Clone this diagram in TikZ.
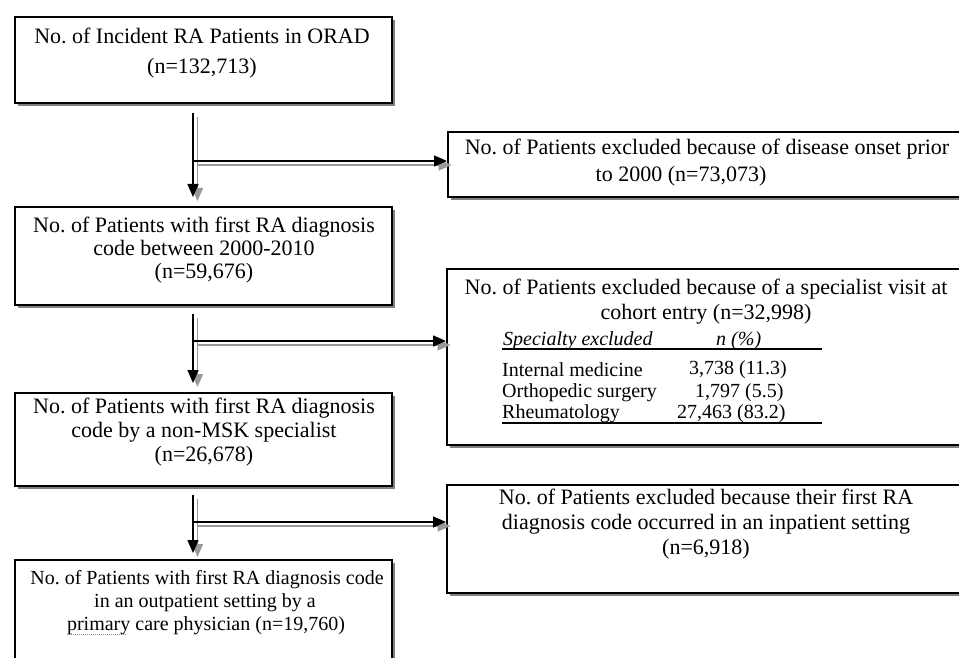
\documentclass[tikz,border=0pt]{standalone}
\usepackage{fontspec}
\setmainfont{Liberation Serif}
\usetikzlibrary{arrows.meta,shadows,calc}
\frenchspacing
\begin{document}
\begin{tikzpicture}[x=1pt,y=-1pt,
  box/.style={draw=black, line width=1.6pt, fill=white, anchor=north west, inner sep=0pt,
    drop shadow={shadow xshift=3.5pt, shadow yshift=-3.5pt, fill=black!50, opacity=1}},
  txt/.style={font=\fontsize{22}{24}\selectfont, inner sep=0pt, align=center},
  tab/.style={font=\fontsize{20}{22}\selectfont, inner sep=0pt, anchor=west},
  arr/.style={draw=black, line width=1.5pt, -{Triangle[length=13pt,width=11pt]}},
  arrsh/.style={draw=black!40, line width=1.5pt, -{Triangle[length=13pt,width=11pt]},
    transform canvas={xshift=4.5pt,yshift=-4pt}},
  rule/.style={draw=black, line width=1.5pt},
  squig/.style={draw=black!45, line width=1pt, densely dotted}
]
\useasboundingbox (0,0) rectangle (959,658);

% boxes
\node[box, minimum width=377pt, minimum height=86pt] (b1) at (14,16) {};
\node[box, minimum width=530pt, minimum height=65pt] (b2) at (447,131) {};
\node[box, minimum width=377pt, minimum height=98pt] (b3) at (14,206) {};
\node[box, minimum width=530pt, minimum height=176pt] (b4) at (446,268) {};
\node[box, minimum width=377pt, minimum height=93pt] (b5) at (14,392) {};
\node[box, minimum width=530pt, minimum height=108pt] (b6) at (446,484) {};
\node[box, minimum width=377pt, minimum height=120pt] (b7) at (14,559) {};

% texts
\node[txt] (t1) at (202,53) {No. of Incident RA Patients in ORAD\\[6pt](n=132,713)};
\node[txt] (t2a) at (707,149) {No. of Patients excluded because of disease onset prior};
\node[txt] (t2b) at (681,176) {to 2000 (n=73,073)};
\node[txt, font=\fontsize{22}{23}\selectfont] (t3) at (204,250) {No. of Patients with first RA diagnosis\\code between 2000-2010\\(n=59,676)};
\node[txt, font=\fontsize{22}{25}\selectfont] (t4) at (706,302) {No. of Patients excluded because of a specialist visit at\\cohort entry (n=32,998)};
\node[txt] (t5) at (204,432) {No. of Patients with first RA diagnosis\\code by a non-MSK specialist\\(n=26,678)};
\node[txt, font=\fontsize{22}{25}\selectfont] (t6) at (706,524) {No. of Patients excluded because their first RA\\diagnosis code occurred in an inpatient setting\\(n=6,918)};
\node[txt, font=\fontsize{20}{23}\selectfont] (t7a) at (207,580) {No. of Patients with first RA diagnosis code};
\node[txt, font=\fontsize{20}{23}\selectfont] (t7b) at (205,603) {in an outpatient setting by a};
\node[txt, font=\fontsize{20}{23}\selectfont] (t7c) at (206,626) {primary care physician (n=19,760)};
\draw[squig] ($(t7c.base west)+(0,4)$) -- ++(60,0);

% table
\node[tab] (h1) at (503,341) {\itshape Specialty excluded};
\node[tab] (h2) at (716,341) {\itshape n (\%)};
\draw[rule] (502,349) -- (822,349);
\node[tab] (r1) at (502,370) {Internal medicine};
\node[tab] (n1) at (689,370) {3,738 (11.3)};
\node[tab] (r2) at (502,393) {Orthopedic surgery};
\node[tab] (n2) at (695,393) {1,797 (5.5)};
\node[tab] (r3) at (502,414) {Rheumatology};
\node[tab] (n3) at (677,414) {27,463 (83.2)};
\draw[rule] (502,423) -- (822,423);

% connectors
\coordinate (vx) at (193,0);
\coordinate (h1c) at (193,161);
\coordinate (h2c) at (193,341);
\coordinate (h3c) at (193,522);
\foreach \s in {arrsh,arr}{
  \draw[\s] ([yshift=-9pt]b1.south -| vx) -- ([yshift=9pt]b3.north -| vx);
  \draw[\s] (h1c) -- (h1c -| b2.west);
  \draw[\s] ([yshift=-8pt]b3.south -| vx) -- ([yshift=9pt]b5.north -| vx);
  \draw[\s] (h2c) -- (h2c -| b4.west);
  \draw[\s] ([yshift=-8pt]b5.south -| vx) -- ([yshift=6pt]b7.north -| vx);
  \draw[\s] (h3c) -- (h3c -| b6.west);
}
\end{tikzpicture}
\end{document}
